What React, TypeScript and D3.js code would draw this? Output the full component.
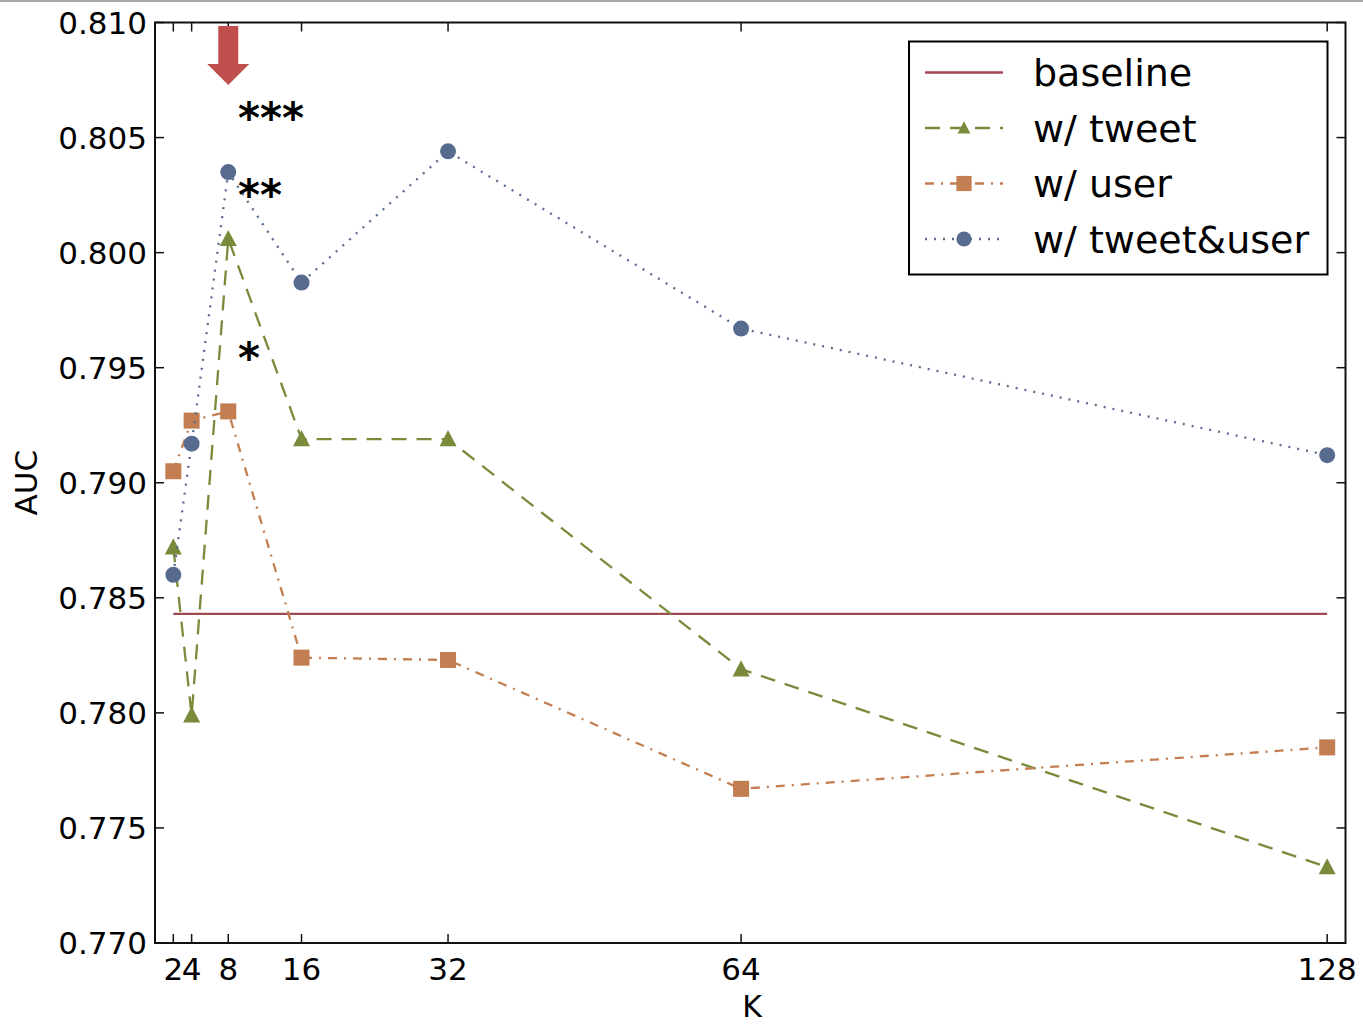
import React from "react";
import * as d3 from "d3";

const kValues = [2, 4, 8, 16, 32, 64, 128];
const baselineAuc = 0.7843;
const tweetAuc = [0.7872, 0.7799, 0.8006, 0.7919, 0.7919, 0.7819, 0.7733];
const userAuc = [0.7905, 0.7927, 0.7931, 0.7824, 0.7823, 0.7767, 0.7785];
const tweetUserAuc = [0.786, 0.7917, 0.8035, 0.7987, 0.8044, 0.7967, 0.7912];
const yTicks = [0.77, 0.775, 0.78, 0.785, 0.79, 0.795, 0.8, 0.805, 0.81];
const legendLabels = ["baseline", "w/ tweet", "w/ user", "w/ tweet&user"];

const W = 1363;
const H = 1026;
const margin = { top: 22.5, right: 17.5, bottom: 83, left: 155 };
const font = "'DejaVu Sans', sans-serif";

const colors = {
  baseline: "#9e4a50",
  tweet: "#7a8a3b",
  user: "#c27e50",
  both: "#566b8e",
};

const x = d3.scaleLinear().domain([0, 130]).range([margin.left, W - margin.right]);
const y = d3.scaleLinear().domain([0.77, 0.81]).range([H - margin.bottom, margin.top]);

const lineGen = d3
  .line<number>()
  .x((_, i) => x(kValues[i]))
  .y((d) => y(d));

const triangle = (cx: number, cy: number, s = 8.5) =>
  `M${cx},${cy - s * 1.05} L${cx + s},${cy + s * 0.85} L${cx - s},${cy + s * 0.85} Z`;

const Marker = ({ kind, cx, cy, color, scale = 1 }: { kind: string; cx: number; cy: number; color: string; scale?: number }) => {
  if (kind === "tri") return <path d={triangle(cx, cy, 8.5 * scale)} fill={color} />;
  if (kind === "sq")
    return <rect x={cx - 8 * scale} y={cy - 8 * scale} width={16 * scale} height={16 * scale} fill={color} />;
  return <circle cx={cx} cy={cy} r={8 * scale} fill={color} />;
};

const series = [
  { data: tweetAuc, color: colors.tweet, dash: "15,10", kind: "tri" },
  { data: userAuc, color: colors.user, dash: "9,7,2,7", kind: "sq" },
  { data: tweetUserAuc, color: colors.both, dash: "2,7", kind: "circ" },
];

export default function App() {
  const x0 = margin.left;
  const x1 = W - margin.right;
  const y0 = H - margin.bottom;
  const y1 = margin.top;

  const legendX = 909;
  const legendY = 41.5;
  const legendRowY = (i: number) => legendY + 31 + i * 55.5;

  return (
    <svg
      width={W}
      height={H}
      style={{ position: "absolute", left: 0, top: 0, background: "#fff" }}
      fontFamily={font}
    >
      <line x1={0} x2={W} y1={1} y2={1} stroke="#888" strokeWidth={1.5} />

      {/* baseline */}
      <line
        x1={x(kValues[0])}
        x2={x(kValues[kValues.length - 1])}
        y1={y(baselineAuc)}
        y2={y(baselineAuc)}
        stroke={colors.baseline}
        strokeWidth={2.3}
      />

      {series.map((s, si) => (
        <g key={si}>
          <path
            d={lineGen(s.data) || ""}
            fill="none"
            stroke={s.color}
            strokeWidth={2.3}
            strokeDasharray={s.dash}
          />
          {s.data.map((v, i) => (
            <Marker key={i} kind={s.kind} cx={x(kValues[i])} cy={y(v)} color={s.color} />
          ))}
        </g>
      ))}

      {/* frame */}
      <rect x={x0} y={y1} width={x1 - x0} height={y0 - y1} fill="none" stroke="#111" strokeWidth={2} />

      {/* y ticks */}
      {yTicks.map((t) => (
        <g key={t}>
          <line x1={x0} x2={x0 + 9} y1={y(t)} y2={y(t)} stroke="#111" strokeWidth={1.5} />
          <line x1={x1} x2={x1 - 9} y1={y(t)} y2={y(t)} stroke="#111" strokeWidth={1.5} />
          <text x={x0 - 8} y={y(t)} dy="0.36em" textAnchor="end" fontSize={31} fill="#000">
            {t.toFixed(3)}
          </text>
        </g>
      ))}

      {/* x ticks */}
      {kValues.map((k) => (
        <g key={k}>
          <line x1={x(k)} x2={x(k)} y1={y0} y2={y0 - 9} stroke="#111" strokeWidth={1.5} />
          <line x1={x(k)} x2={x(k)} y1={y1} y2={y1 + 9} stroke="#111" strokeWidth={1.5} />
          <text x={x(k)} y={y0 + 37} textAnchor="middle" fontSize={31} fill="#000">
            {k}
          </text>
        </g>
      ))}

      <text x={752} y={1017} textAnchor="middle" fontSize={30} fill="#000">
        K
      </text>
      <text
        transform={`translate(37,${(y0 + y1) / 2}) rotate(-90)`}
        textAnchor="middle"
        fontSize={31}
        fill="#000"
      >
        AUC
      </text>

      {/* arrow marking K=8 */}
      <path
        d={`M${x(8) - 10},26 L${x(8) + 10},26 L${x(8) + 10},64 L${x(8) + 21},64 L${x(8)},85 L${x(8) - 21},64 L${x(8) - 10},64 Z`}
        fill="#c0504d"
      />

      {/* significance stars */}
      <text x={238} y={133} fontSize={42} fontWeight="bold" fill="#000">***</text>
      <text x={238} y={210} fontSize={42} fontWeight="bold" fill="#000">**</text>
      <text x={238} y={373} fontSize={42} fontWeight="bold" fill="#000">*</text>

      {/* legend */}
      <rect x={legendX} y={legendY} width={418.5} height={233} fill="#fff" stroke="#000" strokeWidth={2} />
      {legendLabels.map((label, i) => {
        const ry = legendRowY(i);
        const sx0 = 925;
        const sx1 = 1003;
        const mx = 964;
        return (
          <g key={label}>
            {i === 0 ? (
              <line x1={sx0} x2={sx1} y1={ry} y2={ry} stroke={colors.baseline} strokeWidth={2.3} />
            ) : (
              <>
                <line
                  x1={sx0}
                  x2={sx1}
                  y1={ry}
                  y2={ry}
                  stroke={series[i - 1].color}
                  strokeWidth={2.3}
                  strokeDasharray={series[i - 1].dash}
                />
                <Marker
                  kind={series[i - 1].kind}
                  cx={mx}
                  cy={ry}
                  color={series[i - 1].color}
                  scale={i === 1 ? 0.75 : 0.95}
                />
              </>
            )}
            <text x={1033} y={ry} dy="0.36em" fontSize={38} fill="#000">
              {label}
            </text>
          </g>
        );
      })}
    </svg>
  );
}
